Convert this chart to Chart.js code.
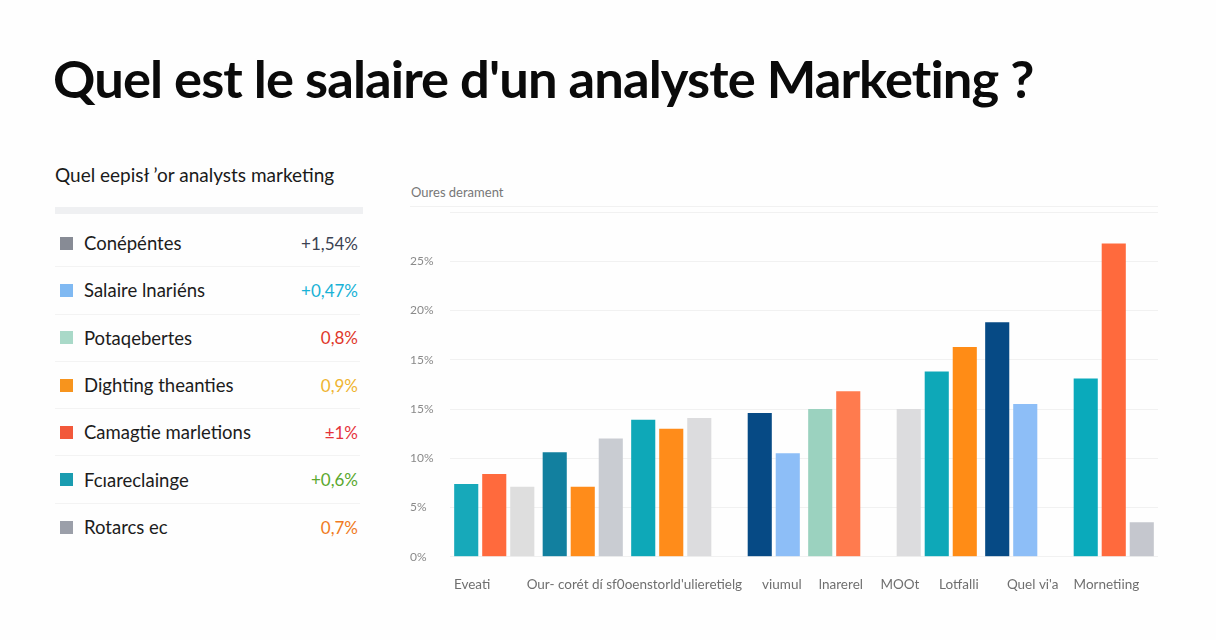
<!DOCTYPE html>
<html lang="fr">
<head>
<meta charset="utf-8">
<script src="https://cdn.jsdelivr.net/npm/chart.js@4.4.1/dist/chart.umd.min.js"></script>
<style>
  html, body { margin: 0; padding: 0; }
  body { width: 1216px; height: 640px; background: #fefefe; position: relative; overflow: hidden; font-family: Lato, "Noto Sans", sans-serif; color: #111; }
  h1 { position: absolute; left: 53px; top: 46px; margin: 0; font-size: 52.5px; font-weight: 700; letter-spacing: -0.9px; color: #0a0a0a; white-space: nowrap; }
  #sub { position: absolute; left: 55px; top: 163px; font-size: 19px; color: #1a1a1a; }
  #subbar { position: absolute; left: 55px; top: 207px; width: 308px; height: 7px; background: #eff0f2; }
  #rows { position: absolute; left: 55px; top: 220px; width: 305px; }
  .row { height: 47.3px; display: flex; align-items: center; border-bottom: 1px solid #f3f3f3; box-sizing: border-box; }
  .row:last-child { border-bottom: none; }
  .sq { width: 13px; height: 13px; margin: 0 11px 0 5px; }
  .lbl { flex: 1; font-size: 18.5px; color: #1c1c1c; }
  .val { font-size: 17px; text-align: right; padding-right: 2px; }
  #chartTitle { position: absolute; left: 411px; top: 184px; font-size: 13px; color: #777; }
  #chartSep { position: absolute; left: 410px; top: 206px; width: 748px; height: 1px; background: #f1f1f1; }
  #wrap { position: absolute; left: 410px; top: 200px; width: 760px; height: 421px; }
</style>
</head>
<body>
<h1>Quel est le salaire d'un analyste Marketing ?</h1>
<div id="sub">Quel eepisł ’or analysts marketing</div>
<div id="subbar"></div>
<div id="rows"></div>
<div id="chartTitle">Oures derament</div>
<div id="chartSep"></div>
<div id="wrap"><canvas id="chart"></canvas></div>
<script>
// Liste de gauche
const rowLabels = ['Conépéntes', 'Salaire lnariéns', 'Potaqebertes', 'Dighting theanties', 'Camagtie marletions', 'Fcıareclainge', 'Rotarcs ec'];
const rowValues = ['+1,54%', '+0,47%', '0,8%', '0,9%', '±1%', '+0,6%', '0,7%'];
const rowSquareColors = ['#878b95', '#80b9f2', '#a9d9c8', '#f7941d', '#f2583a', '#1a9cb0', '#9b9fa9'];
const rowValueColors = ['#3b4252', '#18b2d6', '#e0372a', '#efb430', '#e5333b', '#5aa82e', '#f07a22'];

// Graphique : 8 groupes, jusqu'à 3 barres par groupe
const groups = ['G1', 'G2', 'G3', 'G4', 'G5', 'G6', 'G7', 'G8'];
const barA = [7.4, 10.6, 13.9, null, 15.0, 15.0, 23.8, 18.1];
const barB = [8.4, 7.1, 13.0, 14.6, 16.8, 18.8, 15.5, 31.8];
const barC = [7.1, 12.0, 14.1, 10.5, null, 21.3, null, 3.5];
const colorsA = ['#17a9ba', '#12809f', '#0ea8b8', '#064a85', '#9bd2bf', '#dcdcde', '#064a85', '#0aaabb'];
const colorsB = ['#ff6a3d', '#ff8c1a', '#ff8c1a', '#064a85', '#ff7b4e', '#0ea8b8', '#8dbef7', '#ff6a3d'];
const colorsC = ['#dedede', '#c9ccd2', '#dcdcde', '#8dbef7', '#ffffff', '#ff8c16', '#ffffff', '#c5c7ce'];

const yTickLabels = ['0%', '5%', '10%', '15%', '15%', '20%', '25%', ''];
const xTickLabels = ['Eveati', "Our- corét dí sf0oenstorld'ulieretielg", 'viumul', 'lnarerel', 'MOOt', 'Lotfalli', "Quel vi'a", 'Mornetiing'];
const xTickSlots = [1, 12, 22, 26, 30, 34, 39, 44]; // sur 48 cases

// construire la liste
const rowsEl = document.getElementById('rows');
rowLabels.forEach((label, i) => {
    const row = document.createElement('div');
    row.className = 'row';
    row.innerHTML = `<div class="sq" style="background:${rowSquareColors[i]}"></div>` +
        `<div class="lbl">${label}</div>` +
        `<div class="val" style="color:${rowValueColors[i]}">${rowValues[i]}</div>`;
    rowsEl.appendChild(row);
});

// étiquettes de l'axe x réparties sur 48 cases
const labelSlots = new Array(48).fill('');
xTickSlots.forEach((slot, i) => { labelSlots[slot] = xTickLabels[i]; });

const ctx = document.getElementById('chart').getContext('2d');
new Chart(ctx, {
    type: 'bar',
    data: {
        labels: groups,
        datasets: [
            { data: barA, backgroundColor: colorsA },
            { data: barB, backgroundColor: colorsB },
            { data: barC, backgroundColor: colorsC }
        ]
    },
    options: {
        responsive: true,
        maintainAspectRatio: false,
        animation: false,
        categoryPercentage: 0.95,
        barPercentage: 0.86,
        layout: { padding: { top: 12, right: 12, left: 0, bottom: 16 } },
        plugins: { legend: { display: false }, tooltip: { enabled: false } },
        scales: {
            x: { display: false },
            xl: {
                type: 'category',
                position: 'bottom',
                labels: labelSlots,
                grid: { display: false },
                border: { display: false },
                ticks: {
                    autoSkip: false,
                    maxRotation: 0,
                    padding: 12,
                    color: '#6f6f6f',
                    font: { family: 'Lato', size: 13.5 }
                }
            },
            y: {
                min: 0,
                max: 35,
                ticks: {
                    stepSize: 5,
                    padding: 0,
                    crossAlign: 'far',
                    color: '#8a8a8a',
                    font: { family: 'Lato', size: 12 },
                    callback: (v, i) => yTickLabels[i]
                },
                grid: { color: '#f1f1f1', drawTicks: false },
                border: { display: false },
                afterFit: (scale) => { scale.width = 40; }
            }
        }
    }
});
</script>
</body>
</html>
